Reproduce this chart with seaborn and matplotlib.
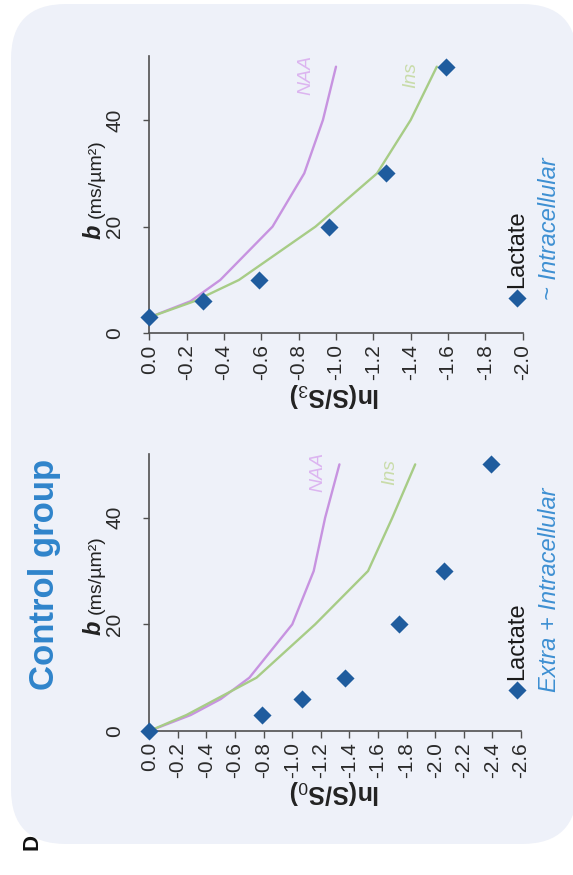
import matplotlib
matplotlib.use("Agg")
import matplotlib.pyplot as plt
import seaborn as sns
from matplotlib.patches import FancyBboxPatch

# ---- data: signal decay vs diffusion weighting b (ms/µm²) ----
# Control group, normalised to S0 (extra + intracellular)
b_lac_s0 = [0, 3, 6, 10, 20, 30, 50]
lac_s0 = [0.0, -0.79, -1.07, -1.37, -1.75, -2.06, -2.39]
b_met_s0 = [0, 3, 6, 10, 20, 30, 40, 50]
naa_s0 = [0.0, -0.29, -0.50, -0.70, -1.00, -1.15, -1.23, -1.33]
ins_s0 = [0.0, -0.26, -0.47, -0.75, -1.16, -1.53, -1.70, -1.86]

# Control group, normalised to S3 (~ intracellular)
b_lac_s3 = [3, 6, 10, 20, 30, 50]
lac_s3 = [0.0, -0.29, -0.59, -0.96, -1.27, -1.59]
b_met_s3 = [3, 6, 10, 20, 30, 40, 50]
naa_s3 = [0.0, -0.22, -0.38, -0.66, -0.83, -0.93, -1.00]
ins_s3 = [0.0, -0.24, -0.48, -0.89, -1.22, -1.40, -1.54]

ln_ticks_s0 = [0.0, -0.2, -0.4, -0.6, -0.8, -1.0, -1.2, -1.4, -1.6, -1.8, -2.0, -2.2, -2.4, -2.6]
ln_ticks_s3 = [0.0, -0.2, -0.4, -0.6, -0.8, -1.0, -1.2, -1.4, -1.6, -1.8, -2.0]
b_ticks = [0, 20, 40]

# ---- style ----
sns.set_style("ticks")
plt.rcParams["font.family"] = ["Liberation Sans", "DejaVu Sans"]
plt.rcParams["axes.unicode_minus"] = False
plt.rcParams["mathtext.fontset"] = "custom"
plt.rcParams["mathtext.rm"] = "Liberation Sans"
plt.rcParams["mathtext.bf"] = "Liberation Sans:bold"

C_LAC = "#1f5c9e"
C_NAA = "#c793e0"
C_INS = "#a7cc86"
C_NAA_TXT = "#dcb5f0"
C_INS_TXT = "#c9dcaa"
C_TITLE = "#2f84cb"
C_SUB = "#3d8fd2"
C_AXIS = "#505050"
C_BG = "#eef1f9"

W, H = 573, 875
fig = plt.figure(figsize=(W / 100, H / 100), dpi=100)
fig.patch.set_facecolor("white")

# panel background in pixel coordinates
bg = fig.add_axes([0, 0, 1, 1], zorder=0)
bg.set_xlim(0, W)
bg.set_ylim(H, 0)
bg.axis("off")
bg.add_patch(FancyBboxPatch((11, 4), 566, 840,
                            boxstyle="round,pad=0,rounding_size=55",
                            fc=C_BG, ec="none"))


def px_axes(x0, x1, ytop, ybot):
    return fig.add_axes([x0 / W, 1 - ybot / H, (x1 - x0) / W, (ybot - ytop) / H], zorder=2)


def draw_panel(ax, b_lac, lac, b_met, naa, ins, ln_ticks, xmin):
    ax.patch.set_alpha(0)
    sns.lineplot(x=naa, y=b_met, sort=False, estimator=None, color=C_NAA, lw=1.7, ax=ax)
    sns.lineplot(x=ins, y=b_met, sort=False, estimator=None, color=C_INS, lw=1.7, ax=ax)
    sns.scatterplot(x=lac, y=b_lac, marker="D", s=85, color=C_LAC, linewidth=0,
                    ax=ax, zorder=4, clip_on=False)
    ax.set_xlim(0, xmin)
    ax.set_ylim(0, 52)
    sns.despine(ax=ax)
    for s in ("left", "bottom"):
        ax.spines[s].set_color(C_AXIS)
        ax.spines[s].set_linewidth(1.2)
    ax.set_xticks(ln_ticks)
    ax.set_xticklabels([f"{t:.1f}" for t in ln_ticks], rotation=90)
    ax.set_yticks(b_ticks)
    ax.set_yticklabels([str(t) for t in b_ticks], rotation=90, va="center")
    ax.tick_params(axis="x", direction="out", length=5, width=1, color=C_AXIS,
                   labelsize=15, labelcolor="#2a2a2a", pad=3)
    ax.tick_params(axis="y", direction="out", length=4, width=1, color=C_AXIS,
                   labelsize=15, labelcolor="#2a2a2a", pad=14)
    ax.set_xlabel("")
    ax.set_ylabel("")


ax_s0 = px_axes(149.3, 521.0, 453.7, 731.0)
ax_s3 = px_axes(149.3, 522.7, 56.0, 333.3)
draw_panel(ax_s0, b_lac_s0, lac_s0, b_met_s0, naa_s0, ins_s0, ln_ticks_s0, -2.6)
draw_panel(ax_s3, b_lac_s3, lac_s3, b_met_s3, naa_s3, ins_s3, ln_ticks_s3, -2.0)

# metabolite labels near line ends
for ax, (xn, yn), (xi, yi) in ((ax_s0, (-1.18, 48.5), (-1.68, 48.5)),
                               (ax_s3, (-0.84, 48.5), (-1.40, 48.5))):
    ax.text(xn, yn, "NAA", rotation=90, style="italic", color=C_NAA_TXT,
            fontsize=14, ha="center", va="center")
    ax.text(xi, yi, "Ins", rotation=90, style="italic", color=C_INS_TXT,
            fontsize=14, ha="center", va="center")

# axis titles
for y in (792, 395):
    bg.text(335, y, r"ln(S/S$_\mathrm{%s}$)" % ("0" if y > 500 else "3"), rotation=180,
            ha="center", va="center", fontsize=18, fontweight="bold", color="#222222")

for y0 in (635, 239):
    bg.text(101, y0, "b", rotation=90, rotation_mode="anchor", ha="left", va="baseline",
            fontsize=17, fontweight="bold", style="italic", color="#222222")
    bg.text(101, y0 - 21, "(ms/µm²)", rotation=90, rotation_mode="anchor", ha="left",
            va="baseline", fontsize=14, color="#222222")

# legends
for (yk, sub) in ((690, "Extra + Intracellular"), (298, "~ Intracellular")):
    bg.scatter([517], [yk], marker="D", s=85, color=C_LAC, linewidth=0)
    bg.text(517, yk - 10, "Lactate", rotation=90, ha="center", va="bottom",
            fontsize=17, color="#1a1a1a")
    bg.text(549, yk + 2, sub, rotation=90, ha="center", va="bottom",
            fontsize=17, style="italic", color=C_SUB)

# panel title and letter
bg.text(45, 690, "Control group", rotation=90, ha="center", va="bottom",
        fontsize=25, fontweight="bold", color=C_TITLE)
bg.text(32, 842, "D", rotation=90, ha="center", va="center",
        fontsize=16, fontweight="bold", color="#111111")

fig.savefig("out.png", dpi=100)
